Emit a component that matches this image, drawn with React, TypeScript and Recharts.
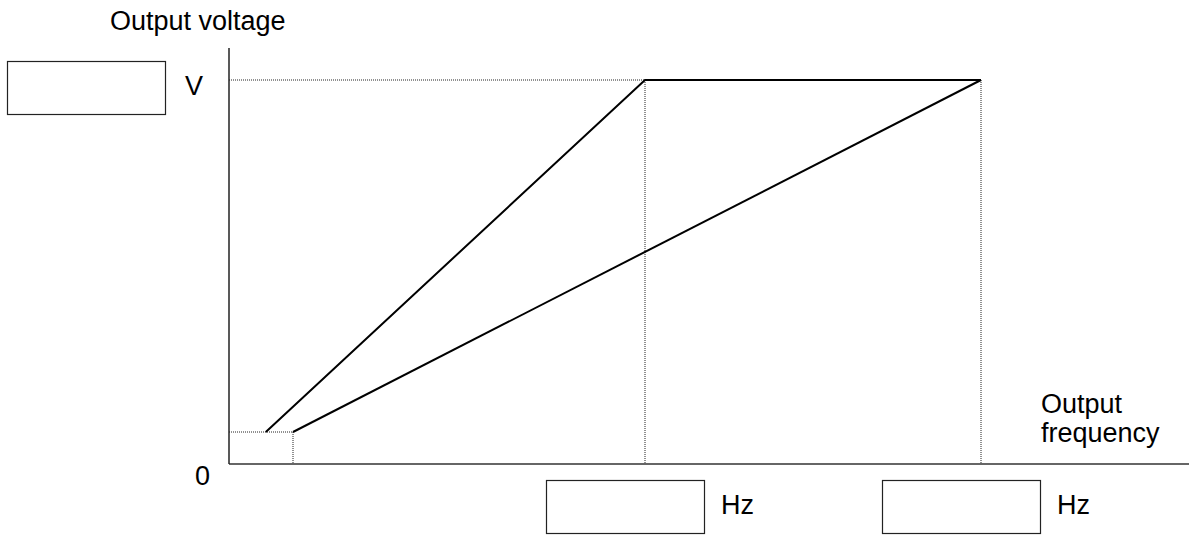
import { LineChart, Line, XAxis, YAxis } from 'recharts';

// frequency (Hz-ish units) and voltage (V-ish units)
const fMin1 = 4.6;
const fMin2 = 8;
const fBase = 52;
const fMax = 94;
const vMax = 120;
const vMin = 10;

const xDomain = [0, 120];
const yDomain = [0, 130];

const pattern1 = [
  { f: fMin1, v: vMin },
  { f: fBase, v: vMax },
  { f: fMax, v: vMax },
];

const pattern2 = [
  { f: fMin2, v: vMin },
  { f: fMax, v: vMax },
];

const guideTop = [
  { f: 0, v: vMax },
  { f: fBase, v: vMax },
];
const guideBase = [
  { f: fBase, v: vMax },
  { f: fBase, v: 0 },
];
const guideMax = [
  { f: fMax, v: vMax },
  { f: fMax, v: 0 },
];
const guideMin = [
  { f: 0, v: vMin },
  { f: fMin2, v: vMin },
];
const guideMinF = [
  { f: fMin2, v: vMin },
  { f: fMin2, v: 0 },
];

const guides = [guideTop, guideBase, guideMax, guideMin, guideMinF];

const font = '"Liberation Sans", Arial, sans-serif';

const App = () => {
  return (
    <div style={{ position: 'absolute', left: 0, top: 0, width: 1198, height: 536, background: '#fff' }}>
      <LineChart width={1198} height={536} margin={{ top: 48, right: 9, left: 219, bottom: 62 }}>
        <XAxis
          type="number"
          dataKey="f"
          domain={xDomain}
          height={10}
          tick={false}
          tickLine={false}
          axisLine={{ stroke: '#333', strokeWidth: 1.5 }}
          allowDataOverflow
        />
        <YAxis
          type="number"
          dataKey="v"
          domain={yDomain}
          width={10}
          tick={false}
          tickLine={false}
          axisLine={{ stroke: '#222', strokeWidth: 1.5 }}
          allowDataOverflow
        />
        {guides.map((g, i) => (
          <Line
            key={i}
            data={g}
            dataKey="v"
            stroke="#222"
            strokeWidth={1}
            strokeDasharray="1 1"
            dot={false}
            isAnimationActive={false}
          />
        ))}
        <Line data={pattern1} dataKey="v" stroke="#000" strokeWidth={2} dot={false} isAnimationActive={false} />
        <Line data={pattern2} dataKey="v" stroke="#000" strokeWidth={2} dot={false} isAnimationActive={false} />
      </LineChart>
      <svg
        width={1198}
        height={536}
        style={{ position: 'absolute', left: 0, top: 0, pointerEvents: 'none' }}
        fontFamily={font}
        fontSize={27}
        fill="#000"
      >
        <text x={110} y={30}>Output voltage</text>
        <rect x={7.5} y={61.5} width={158} height={53} fill="none" stroke="#222" strokeWidth={1.2} />
        <text x={185} y={95}>V</text>
        <text x={195} y={485}>0</text>
        <text x={1041} y={413}>Output</text>
        <text x={1041} y={442}>frequency</text>
        <rect x={546.5} y={480.5} width={158} height={53} fill="none" stroke="#222" strokeWidth={1.2} />
        <text x={721} y={514}>Hz</text>
        <rect x={882.5} y={480.5} width={158} height={53} fill="none" stroke="#222" strokeWidth={1.2} />
        <text x={1057} y={514}>Hz</text>
      </svg>
    </div>
  );
};

export default App;
